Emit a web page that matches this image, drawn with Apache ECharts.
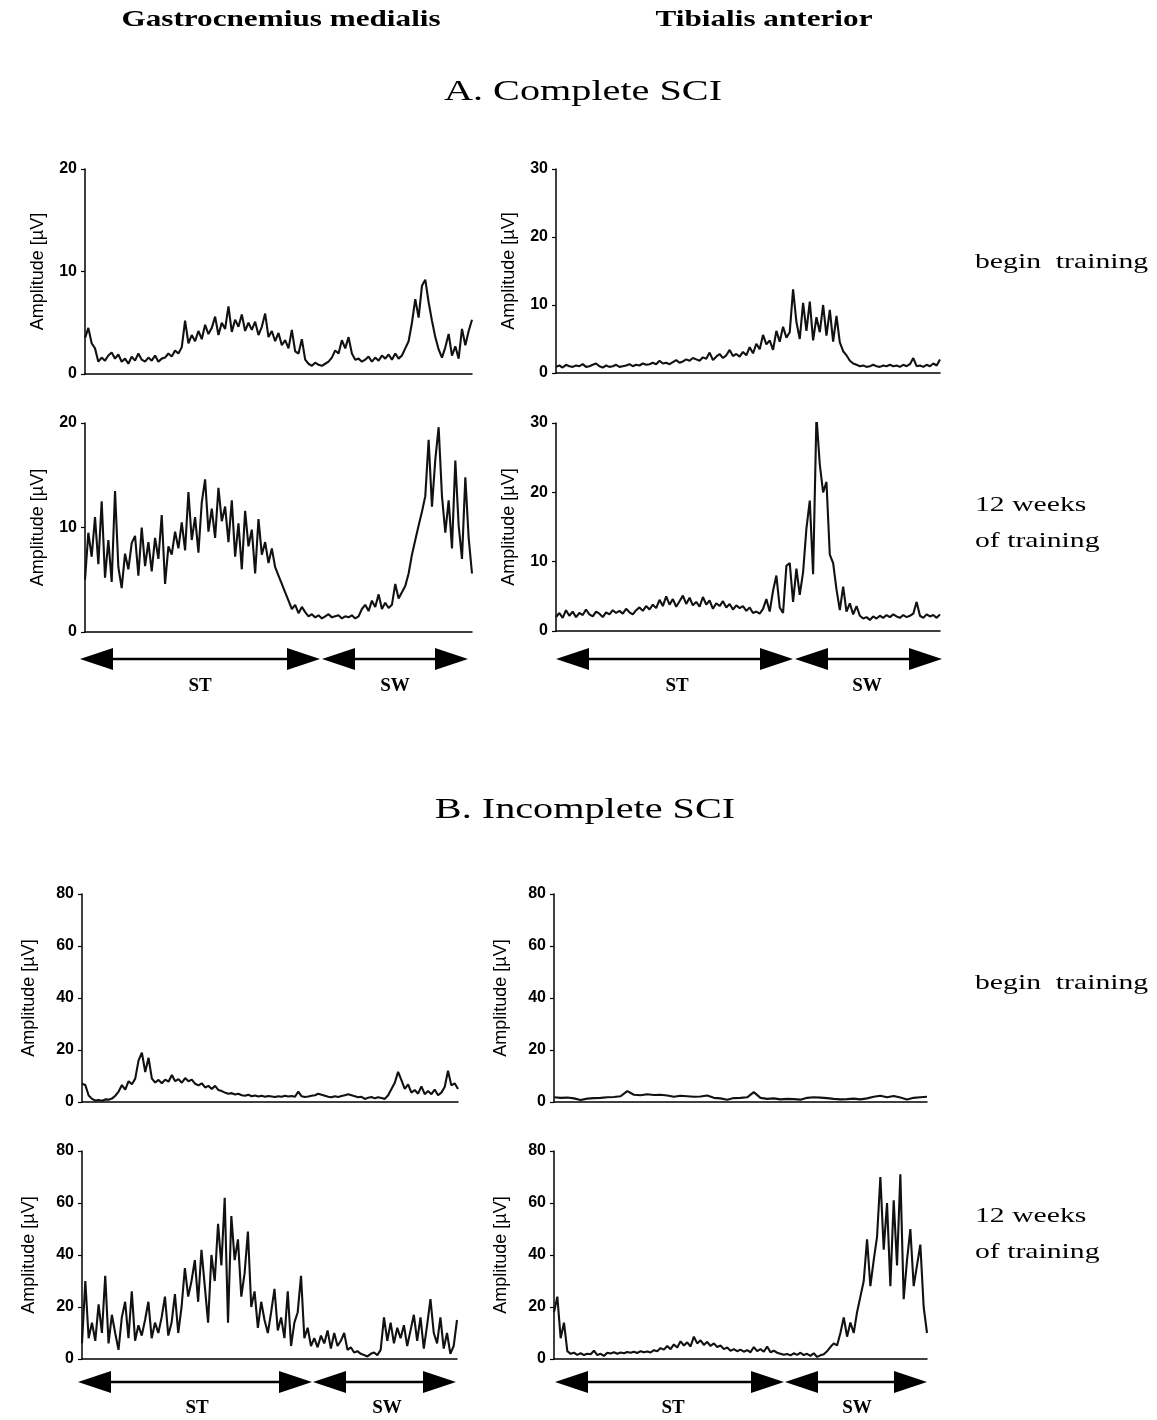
<!DOCTYPE html>
<html>
<head>
<meta charset="utf-8">
<title>EMG activity - complete and incomplete SCI</title>
<script src="https://cdn.jsdelivr.net/npm/echarts@6/dist/echarts.min.js"></script>
<style>
    html, body { margin: 0; padding: 0; background: #fff; }
    #chart { width: 1157px; height: 1420px; }
</style>
</head>
<body>
<div id="chart"></div>
<script>
// --- Data (amplitude in µV, samples across one gait cycle) ---

// A. Complete SCI
const gmCompleteBegin = [
    3.5, 4.5, 3.0, 2.5, 1.2, 1.6, 1.3, 1.8, 2.1, 1.5, 1.9, 1.2, 1.5, 1.0, 1.7, 1.3,
    2.0, 1.4, 1.2, 1.6, 1.3, 1.8, 1.2, 1.5, 1.6, 2.0, 1.7, 2.3, 2.0, 2.6, 5.2, 3.0,
    3.8, 3.2, 4.2, 3.4, 4.8, 3.9, 4.5, 5.6, 3.8, 5.0, 4.4, 6.6, 4.1, 5.3, 4.6, 5.8,
    4.2, 5.0, 4.3, 5.1, 3.8, 4.6, 5.9, 3.6, 4.2, 3.2, 4.0, 2.8, 3.3, 2.5, 4.3, 2.2,
    2.0, 3.4, 1.4, 1.0, 0.8, 1.1, 0.9, 0.8, 1.0, 1.2, 1.6, 2.3, 2.0, 3.3, 2.5, 3.6,
    2.0, 1.4, 1.5, 1.2, 1.4, 1.7, 1.2, 1.6, 1.3, 1.8, 1.5, 1.9, 1.4, 2.0, 1.5, 1.8,
    2.5, 3.2, 5.0, 7.3, 5.5, 8.6, 9.2, 7.0, 5.2, 3.6, 2.4, 1.6, 2.6, 3.9, 1.8, 2.7,
    1.5, 4.4, 2.8, 4.2, 5.3
];
const taCompleteBegin = [
    0.9, 1.1, 0.8, 1.2, 1.0, 0.9, 1.1, 1.0, 1.3, 0.9, 1.0, 1.2, 1.4, 1.0, 0.8, 1.1,
    0.9, 1.0, 1.2, 0.9, 1.0, 1.1, 1.3, 1.0, 1.2, 1.1, 1.4, 1.2, 1.3, 1.5, 1.3, 1.8,
    1.4, 1.5, 1.3, 1.6, 1.9, 1.5, 1.7, 2.0, 1.8, 2.2, 2.0, 1.8, 2.3, 2.1, 3.0, 1.9,
    2.4, 2.8, 2.2, 2.6, 3.4, 2.5, 2.8, 2.4, 3.1, 2.6, 3.8, 2.9, 4.3, 3.5, 5.6, 4.2,
    4.8, 3.4, 6.2, 4.6, 6.8, 5.2, 6.0, 12.3, 7.5, 5.0, 10.3, 6.2, 10.5, 4.8, 8.2, 6.0,
    10.0, 5.5, 9.3, 4.6, 8.4, 4.5, 3.2, 2.6, 1.8, 1.4, 1.2, 1.0, 1.1, 0.9, 1.0, 1.2,
    1.0, 0.9, 1.1, 1.0, 1.2, 1.0, 1.1, 0.9, 1.2, 1.0, 1.3, 2.2, 1.0, 1.1, 0.9, 1.2,
    1.0, 1.4, 1.1, 2.0
];
const gmCompleteWeek12 = [
    5.0, 9.5, 7.2, 11.0, 6.5, 12.5, 5.2, 8.8, 4.8, 13.5, 6.2, 4.2, 7.5, 6.0, 8.5, 9.2,
    5.4, 10.0, 6.3, 8.6, 5.8, 9.0, 7.0, 11.2, 4.6, 8.2, 7.4, 9.6, 8.0, 10.5, 7.8, 13.4,
    8.8, 11.0, 7.6, 12.4, 14.6, 9.6, 11.8, 9.0, 13.8, 10.6, 12.0, 8.6, 12.6, 7.2, 10.4, 6.0,
    11.6, 8.2, 9.8, 5.6, 10.8, 7.4, 8.6, 6.6, 8.0, 6.2, 5.4, 4.6, 3.8, 3.0, 2.2, 2.6,
    1.8, 2.4, 1.9, 1.5, 1.7, 1.4, 1.6, 1.3, 1.5, 1.7, 1.4, 1.5, 1.6, 1.3, 1.5, 1.4,
    1.6, 1.3, 1.5, 2.2, 2.6, 2.0, 3.0, 2.4, 3.6, 2.2, 2.8, 2.3, 2.6, 4.6, 3.2, 3.8,
    4.4, 5.6, 7.4, 8.8, 10.2, 11.5, 13.0, 18.4, 12.0, 16.5, 19.6, 13.0, 9.5, 12.6, 8.0, 16.4,
    10.2, 7.0, 14.8, 9.0, 5.6
];
const taCompleteWeek12 = [
    2.0, 2.6, 1.9, 3.0, 2.2, 2.8, 2.0, 2.6, 2.3, 3.1, 2.4, 2.1, 2.8, 2.5, 2.0, 2.7,
    2.4, 3.0, 2.6, 2.9, 2.5, 3.2, 2.7, 2.4, 3.0, 3.4, 2.9, 3.6, 3.1, 3.8, 3.3, 4.5,
    3.6, 5.0, 3.8, 4.6, 3.5, 4.3, 5.1, 3.9, 4.8, 3.7, 4.2, 3.5, 4.9, 3.8, 4.4, 3.2,
    4.0, 3.6, 4.3, 3.4, 3.9, 3.1, 3.7, 3.3, 3.6, 2.9, 3.4, 2.6, 2.8, 2.5, 3.2, 4.6,
    2.8, 5.8, 8.0, 3.4, 2.6, 9.4, 9.8, 4.2, 9.0, 5.2, 8.5, 14.8, 18.8, 8.2, 31.0, 24.0,
    20.0, 21.5, 11.0, 9.8, 6.0, 3.0, 6.4, 2.8, 4.0, 2.4, 3.6, 2.2, 1.8, 2.0, 1.6, 2.1,
    1.8, 2.2, 1.9, 2.3, 2.0, 2.4, 2.1, 1.9, 2.3, 2.0, 2.2, 2.5, 4.2, 2.2, 1.9, 2.4,
    2.1, 2.3, 1.9, 2.4
];

// B. Incomplete SCI
const gmIncompleteBegin = [
    7.0, 6.5, 2.5, 1.2, 0.6, 0.8, 0.5, 1.0, 0.9, 1.3, 2.4, 4.0, 6.5, 4.8, 8.0, 6.8,
    9.0, 16.0, 19.0, 11.5, 17.0, 9.0, 7.5, 8.5, 7.2, 8.6, 7.8, 10.4, 8.0, 8.8, 7.4, 9.2,
    8.0, 8.6, 7.0, 6.4, 7.2, 5.6, 6.2, 5.0, 6.2, 4.6, 4.2, 3.6, 3.2, 3.4, 2.9, 3.2,
    2.6, 2.4, 2.8, 2.2, 2.5, 2.1, 2.4, 2.0, 2.3, 2.1, 1.9, 2.2, 2.0, 2.4, 2.1, 2.3,
    2.0, 4.0, 2.2, 1.9, 2.1, 2.4, 2.6, 3.2, 2.8, 2.4, 2.0, 1.8, 2.2, 1.9, 2.3, 2.6,
    3.0, 2.6, 2.2, 1.8, 2.0, 1.2, 1.6, 1.9, 1.4, 1.8, 1.5, 1.2, 2.6, 5.0, 7.4, 11.6,
    8.4, 5.0, 6.8, 3.6, 4.6, 3.2, 6.0, 3.0, 4.2, 3.0, 4.8, 2.6, 3.6, 5.8, 12.0, 6.4,
    7.2, 5.0
];
const taIncompleteBegin = [
    1.8, 1.6, 1.7, 1.4, 0.8, 1.3, 1.5, 1.6, 1.8, 1.9, 2.2, 4.2, 2.8, 2.6, 3.0, 2.7,
    2.8, 2.5, 2.0, 2.4, 2.2, 2.0, 2.1, 2.5, 1.6, 1.4, 0.9, 1.5, 1.6, 1.8, 3.8, 1.6,
    1.2, 1.4, 1.0, 1.2, 1.1, 0.9, 1.6, 1.8, 1.7, 1.5, 1.2, 1.0, 1.1, 1.3, 1.0, 1.4,
    2.0, 2.4, 1.8, 2.3, 1.7, 1.0, 1.6, 1.8, 2.0
];
const gmIncompleteWeek12 = [
    6.0, 30.0, 8.0, 14.0, 7.0, 21.0, 10.0, 32.0, 6.0, 17.0, 10.0, 3.5, 16.0, 22.0, 8.0, 26.0,
    7.0, 13.0, 9.0, 15.0, 22.0, 8.0, 14.0, 10.0, 16.0, 24.0, 9.0, 14.0, 25.0, 10.0, 20.0, 35.0,
    24.0, 30.0, 38.0, 22.0, 42.0, 28.0, 14.0, 40.0, 30.0, 52.0, 36.0, 62.0, 14.0, 55.0, 38.0, 46.0,
    24.0, 33.0, 49.0, 20.0, 26.0, 12.0, 22.0, 15.0, 10.0, 18.0, 27.0, 11.0, 16.0, 8.0, 26.0, 5.0,
    14.0, 18.0, 32.0, 8.0, 12.0, 5.0, 8.0, 4.5, 9.0, 6.0, 11.0, 4.0, 10.0, 5.0, 7.0, 10.0,
    3.5, 4.5, 2.5, 3.0, 2.0, 1.5, 1.0, 2.0, 2.5, 1.5, 3.5, 16.0, 7.0, 14.0, 6.0, 12.0,
    8.0, 13.0, 5.0, 11.0, 17.0, 7.0, 16.0, 4.0, 13.0, 23.0, 10.0, 6.0, 16.0, 4.0, 10.0, 2.0,
    5.0, 15.0
];
const taIncompleteWeek12 = [
    18.0, 24.0, 8.0, 14.0, 3.0, 2.0, 2.4, 1.6, 2.2, 1.5, 2.0, 1.8, 3.2, 1.5, 2.0, 1.2,
    2.4, 2.1, 2.6, 2.0, 2.5, 2.2, 2.7, 2.4, 2.8, 2.3, 3.0, 2.6, 2.9, 2.5, 3.4, 3.0,
    4.2, 3.6, 5.0, 3.8, 5.6, 4.4, 6.8, 5.2, 6.4, 4.8, 8.6, 6.0, 7.2, 5.4, 6.6, 5.0,
    6.0, 4.6, 5.2, 3.8, 4.4, 3.2, 3.8, 3.0, 3.6, 2.8, 3.4, 2.6, 4.6, 3.0, 3.8, 2.8,
    4.8, 2.6, 3.2, 2.4, 2.0, 1.6, 1.9, 1.4, 2.2, 1.6, 2.4, 1.5, 2.0, 1.2, 2.2, 0.8,
    1.4, 1.8, 3.0, 4.6, 6.0, 5.2, 10.0, 16.0, 8.6, 14.0, 10.0, 18.0, 24.0, 30.0, 46.0, 28.0,
    38.0, 47.0, 70.0, 42.0, 60.0, 28.0, 61.0, 36.0, 71.0, 23.0, 38.0, 50.0, 28.0, 36.0, 44.0, 20.0,
    10.0
];

const seriesData = [
    gmCompleteBegin, taCompleteBegin, gmCompleteWeek12, taCompleteWeek12,
    gmIncompleteBegin, taIncompleteBegin, gmIncompleteWeek12, taIncompleteWeek12
];
const yMaxes = [20, 30, 20, 30, 80, 80, 80, 80];
const yIntervals = [10, 10, 10, 10, 20, 20, 20, 20];

const muscleTitles = ["Gastrocnemius medialis", "Tibialis anterior"];
const sectionTitles = ["A. Complete SCI", "B. Incomplete SCI"];
const phaseLabels = ["ST", "SW"];

// --- Layout (pixels) ---
const grids = [
    { left: 85, top: 169, width: 387, height: 205 },
    { left: 556, top: 169, width: 384, height: 204 },
    { left: 85, top: 423, width: 387, height: 209 },
    { left: 556, top: 423, width: 384, height: 208 },
    { left: 82, top: 894, width: 376, height: 208 },
    { left: 554, top: 894, width: 373, height: 208 },
    { left: 82, top: 1151, width: 375, height: 208 },
    { left: 554, top: 1151, width: 373, height: 208 }
];
const nameGaps = [38, 38, 38, 38, 44, 44, 44, 44];

const SERIF = '"Liberation Serif", "Times New Roman", serif';
const SANS = '"Liberation Sans", Arial, sans-serif';

const chart = echarts.init(document.getElementById("chart"), null, { renderer: "canvas" });

const gridOpts = grids.map(g => Object.assign({ outerBoundsMode: "none", containLabel: false }, g));

const xAxes = seriesData.map((d, i) => ({
    type: "value",
    gridIndex: i,
    min: 0,
    max: d.length - 1,
    axisLine: { show: true, onZero: false, lineStyle: { color: "#000", width: 1.5 } },
    axisTick: { show: false },
    axisLabel: { show: false },
    splitLine: { show: false }
}));

const yAxes = seriesData.map((d, i) => ({
    type: "value",
    gridIndex: i,
    min: 0,
    max: yMaxes[i],
    interval: yIntervals[i],
    name: "Amplitude [µV]",
    nameLocation: "middle",
    nameGap: nameGaps[i],
    nameTextStyle: { fontFamily: SANS, fontSize: 18, color: "#000" },
    axisLine: { show: true, lineStyle: { color: "#000", width: 1.5 } },
    axisTick: { show: true, inside: false, length: 4, lineStyle: { color: "#000", width: 1.2 } },
    axisLabel: { fontFamily: SANS, fontSize: 16, fontWeight: "bold", color: "#000", margin: 8 },
    splitLine: { show: false }
}));

const series = seriesData.map((d, i) => ({
    type: "line",
    xAxisIndex: i,
    yAxisIndex: i,
    data: d.map((v, k) => [k, v]),
    symbol: "none",
    lineStyle: { color: "#111", width: 2.1 },
    silent: true
}));

// Stance / swing arrows under the 12-week panels
function arrow(x1, x2, y) {
    const hl = 33, hh = 11;
    return [
        { type: "line", shape: { x1: x1 + hl - 2, y1: y, x2: x2 - hl + 2, y2: y },
          style: { stroke: "#000", lineWidth: 2.5 } },
        { type: "polygon", shape: { points: [[x1, y], [x1 + hl, y - hh], [x1 + hl, y + hh]] },
          style: { fill: "#000" } },
        { type: "polygon", shape: { points: [[x2, y], [x2 - hl, y - hh], [x2 - hl, y + hh]] },
          style: { fill: "#000" } }
    ];
}

function text(str, x, y, opts) {
    return {
        type: "text",
        x: x,
        y: y,
        scaleX: opts.scaleX || 1,
        style: {
            text: str,
            font: opts.font,
            fill: "#000",
            textAlign: opts.align || "center",
            textVerticalAlign: "middle"
        }
    };
}

const headFont = "bold 24px " + SERIF;
const sectionFont = "30px " + SERIF;
const rowFont = "22px " + SERIF;
const phaseFont = "bold 19px " + SERIF;

const graphics = [
    text(muscleTitles[0], 281, 20, { font: headFont, scaleX: 1.3 }),
    text(muscleTitles[1], 764, 20, { font: headFont, scaleX: 1.3 }),
    text(sectionTitles[0], 583, 92, { font: sectionFont, scaleX: 1.34 }),
    text(sectionTitles[1], 585, 810, { font: sectionFont, scaleX: 1.34 }),
    text("begin  training", 975, 262, { font: rowFont, scaleX: 1.35, align: "left" }),
    text("12 weeks", 975, 505, { font: rowFont, scaleX: 1.35, align: "left" }),
    text("of training", 975, 541, { font: rowFont, scaleX: 1.35, align: "left" }),
    text("begin  training", 975, 983, { font: rowFont, scaleX: 1.35, align: "left" }),
    text("12 weeks", 975, 1216, { font: rowFont, scaleX: 1.35, align: "left" }),
    text("of training", 975, 1252, { font: rowFont, scaleX: 1.35, align: "left" }),

    text(phaseLabels[0], 200, 686, { font: phaseFont }),
    text(phaseLabels[1], 395, 686, { font: phaseFont }),
    text(phaseLabels[0], 677, 686, { font: phaseFont }),
    text(phaseLabels[1], 867, 686, { font: phaseFont }),
    text(phaseLabels[0], 197, 1408, { font: phaseFont }),
    text(phaseLabels[1], 387, 1408, { font: phaseFont }),
    text(phaseLabels[0], 673, 1408, { font: phaseFont }),
    text(phaseLabels[1], 857, 1408, { font: phaseFont })
]
    .concat(arrow(80, 320, 659), arrow(322, 468, 659))
    .concat(arrow(556, 793, 659), arrow(795, 942, 659))
    .concat(arrow(78, 312, 1382), arrow(313, 456, 1382))
    .concat(arrow(555, 784, 1382), arrow(785, 927, 1382));

chart.setOption({
    backgroundColor: "#fff",
    animation: false,
    grid: gridOpts,
    xAxis: xAxes,
    yAxis: yAxes,
    series: series,
    graphic: graphics
});
</script>
</body>
</html>
